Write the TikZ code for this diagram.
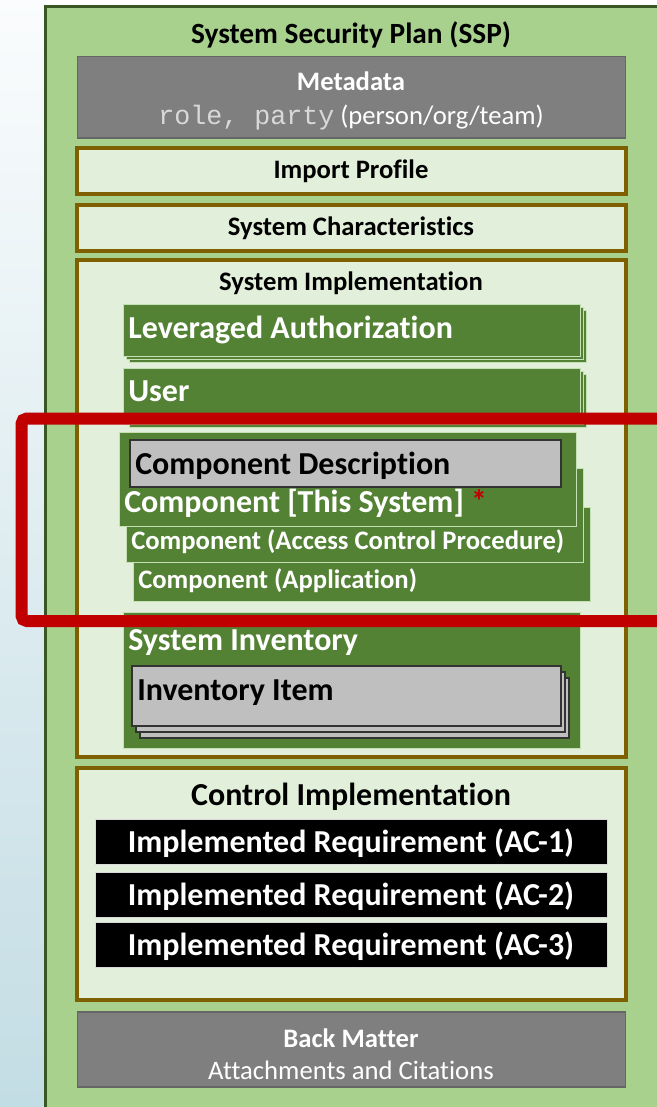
\documentclass[tikz,border=0pt]{standalone}
\usepackage{fontspec}
\setmainfont{Carlito}[Ligatures=NoCommon]
\setmonofont{Liberation Mono}
\usepackage{xcolor}
\usepackage{tikz}
\definecolor{planfill}{HTML}{A9D18E}
\definecolor{planedge}{HTML}{385723}
\definecolor{sectfill}{HTML}{E2EFDA}
\definecolor{sectedge}{HTML}{7F6000}
\definecolor{metagray}{HTML}{7F7F7F}
\definecolor{compgreen}{HTML}{548235}
\definecolor{compedge}{HTML}{C5E0B4}
\definecolor{descgray}{HTML}{BFBFBF}
\definecolor{focusred}{HTML}{C00000}
\definecolor{bgtop}{HTML}{FAFCFD}
\definecolor{bgbottom}{HTML}{C3DDE4}
\newcommand{\code}[1]{{\color{white!85!black}\texttt{#1}}}

\begin{document}
\begin{tikzpicture}[
  x=0.75pt, y=-0.75pt,
  plan/.style={draw=planedge, fill=planfill, line width=2.4pt},
  sectbox/.style={draw=sectedge, fill=sectfill, line width=2.5pt},
  metabox/.style={draw=black!60, fill=metagray, line width=0.8pt},
  compbox/.style={draw=compedge, fill=compgreen, line width=0.7pt},
  descbox/.style={draw=black!80, fill=descgray, line width=0.9pt},
  reqbox/.style={draw=black!15, fill=black, line width=0.7pt},
  txt/.style={anchor=base, inner sep=0pt, font=\fontsize{20}{24}\selectfont\bfseries},
  plaintxt/.style={txt, font=\fontsize{20}{24}\selectfont},
  bigtxt/.style={txt, font=\fontsize{24}{28}\selectfont\bfseries},
  lefttxt/.style={bigtxt, anchor=base west, text=white}
]
\useasboundingbox (0,0) rectangle (657,1107);
\clip (0,0) rectangle (657,1107);
\shade[top color=bgtop, bottom color=bgbottom] (0,0) rectangle (46,1107);
\draw[plan] (45.5,6.5) rectangle (720,1150);
\node[txt, font=\fontsize{22}{26}\selectfont\bfseries] (ssp) at (351,43) {System Security Plan (SSP)};

\draw[metabox] (77.5,56.5) rectangle (625.5,138);
\node[txt, text=white] (meta) at (351,90) {Metadata};
\node[plaintxt, text=white] (metaparty) at (351,124) {\code{role, party} (person/org/team)};

\draw[sectbox] (77,148) rectangle (626,194);
\node[txt] (profile) at (351,178) {Import Profile};
\draw[sectbox] (77,205) rectangle (626,251);
\node[txt] (sysChar) at (351,235) {System Characteristics};

\draw[sectbox] (77,260) rectangle (626,757);
\node[txt] (sysImpl) at (351,290) {System Implementation};
\foreach \d in {6,3} \draw[compbox] (123+\d,304+\d) rectangle (580+\d,356+\d);
\draw[compbox] (123,304) rectangle (580,356);
\node[lefttxt] (leveraged) at (128,338) {Leveraged Authorization};
\foreach \d in {6,3} \draw[compbox] (123+\d,368+\d) rectangle (580+\d,421+\d);
\draw[compbox] (123,368) rectangle (580,421);
\node[lefttxt] (user) at (128,401) {User};

\draw[compbox] (133,507) rectangle (590,601);
\node[lefttxt, font=\fontsize{20}{24}\selectfont\bfseries] (compApp) at (138,588) {Component (Application)};
\draw[compbox] (126,468.5) rectangle (583,562);
\node[lefttxt, font=\fontsize{20}{24}\selectfont\bfseries] (compAcp) at (131,549) {Component (Access Control Procedure)};
\draw[compbox] (119,432) rectangle (576,526);
\node[lefttxt] (compThis) at (124,512) {Component [This System] \textcolor{focusred}{*}};
\draw[descbox] (130,440) rectangle (561,487);
\node[lefttxt, text=black] (compDesc) at (135,474) {Component Description};

\draw[compbox] (123,612) rectangle (580,748);
\node[lefttxt] (inventory) at (128,650) {System Inventory};
\foreach \d in {2,1} \draw[descbox] (132+4*\d,666+6*\d) rectangle (561+4*\d,726+6*\d);
\draw[descbox] (132,666) rectangle (561,726);
\node[lefttxt, text=black] (invItem) at (137,700) {Inventory Item};

\draw[sectbox] (77,768) rectangle (626,1000);
\node[bigtxt] (ctrlImpl) at (351,805) {Control Implementation};
\foreach \n/\y in {1/819,2/872,3/922} {
  \draw[reqbox] (95,\y) rectangle (607.5,\y+45);
  \node[bigtxt, text=white] (req\n) at (351,\y+33.5) {Implemented Requirement (AC-\n)};
}

\draw[metabox] (77.5,1012) rectangle (625.5,1087);
\node[txt, text=white] (backMatter) at (351,1047) {Back Matter};
\node[plaintxt, text=white] (attach) at (351,1079) {Attachments and Citations};

\draw[focusred, line width=9pt, rounded corners=4pt] (21.5,418.5) rectangle (720,621);
\end{tikzpicture}
\end{document}
